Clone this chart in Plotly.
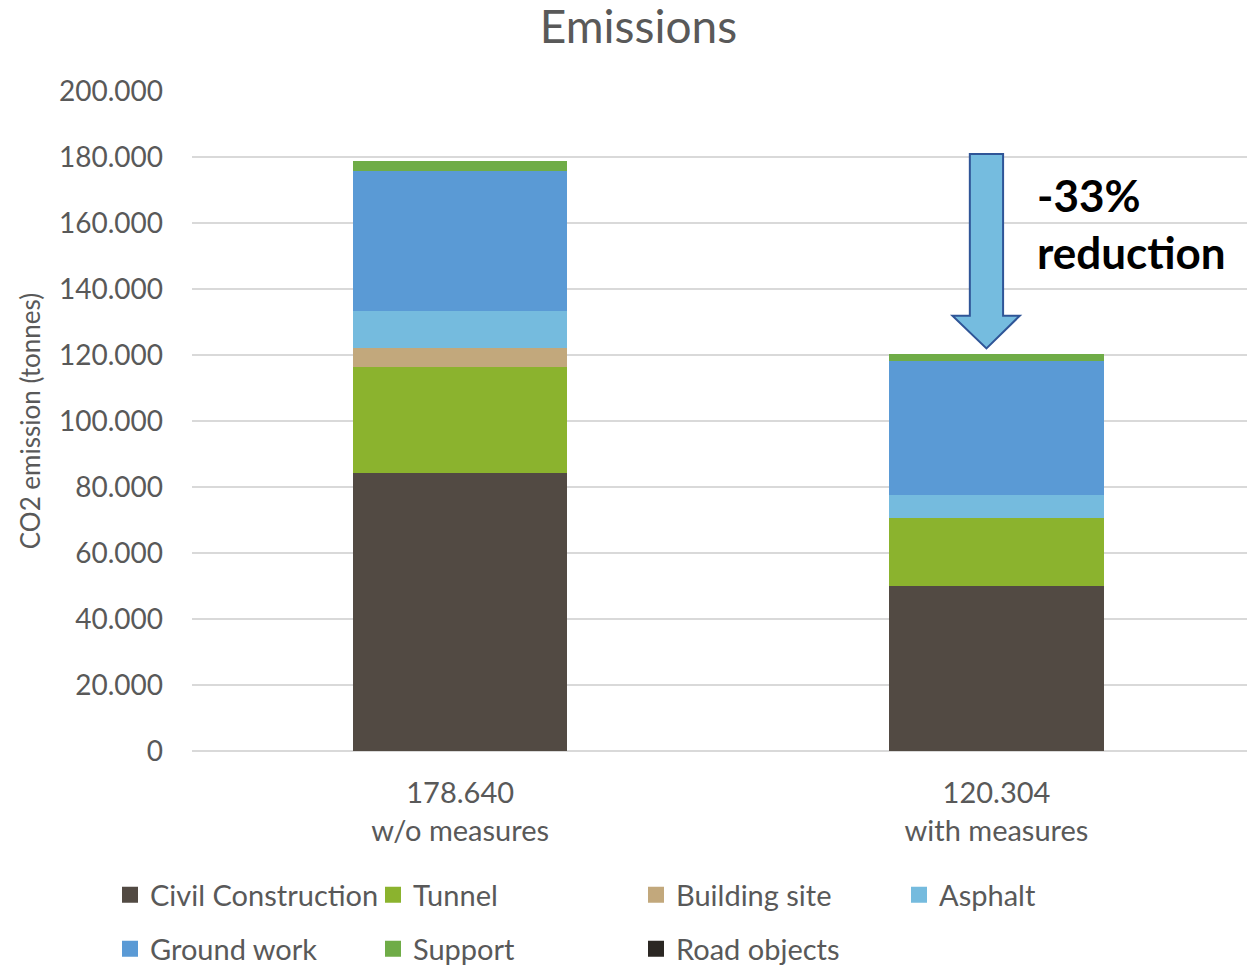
import plotly.graph_objects as go

# ---- data (tonnes CO2) ----
scenarios = ["w/o measures", "with measures"]
series_names = ["Civil Construction", "Tunnel", "Building site", "Asphalt",
                "Ground work", "Support", "Road objects"]
civil_construction = [84300, 50100]
tunnel = [32200, 20600]
building_site = [5700, 0]
asphalt = [11100, 6900]
ground_work = [42600, 40600]
support = [2740, 2104]
road_objects = [0, 0]
y_ticks = [0, 20000, 40000, 60000, 80000, 100000, 120000, 140000, 160000, 180000, 200000]
reduction_text = "-33%<br>reduction"

series_values = [civil_construction, tunnel, building_site, asphalt,
                 ground_work, support, road_objects]
colors = ["#524A43", "#8BB32E", "#C2A87C", "#75BBDE", "#5A9AD5", "#6FAC47", "#2B2723"]

totals = [sum(v[i] for v in series_values) for i in range(len(scenarios))]
categories = [f"{t:,}".replace(",", ".") + "<br>" + s for t, s in zip(totals, scenarios)]

FONT = "Lato"
GREY = "#595959"
W, H = 1255, 960  # page adds an 8px body margin

fig = go.Figure()
for name, vals, col in zip(series_names, series_values, colors):
    fig.add_trace(go.Bar(x=categories, y=vals, name=name, marker_color=col,
                         marker_line_width=0, width=0.4, showlegend=False))

# legend entries (square markers) split into two rows
row1 = series_names[:4]
for name, col in zip(series_names, colors):
    fig.add_trace(go.Scatter(x=[None], y=[None], mode="markers", name=name,
                             marker=dict(symbol="square", size=16, color=col),
                             legend="legend" if name in row1 else "legend2"))

legend_common = dict(orientation="h", xref="container", yref="container",
                     xanchor="left", yanchor="middle", traceorder="normal",
                     entrywidth=218, entrywidthmode="pixels",
                     font=dict(family=FONT, size=29, color=GREY),
                     bgcolor="rgba(0,0,0,0)", borderwidth=0, tracegroupgap=0)

# block arrow (category-index x, data y)
cx = 0.9813
arrow_path = (f"M {cx-0.031},{180900} L {cx+0.031},{180900} L {cx+0.031},{131900} "
              f"L {cx+0.0622},{131900} L {cx},{122000} L {cx-0.0634},{131900} "
              f"L {cx-0.031},{131900} Z")
fig.add_shape(type="path", path=arrow_path, xref="x", yref="y",
              fillcolor="#75BCDF", line=dict(color="#2F5597", width=2), layer="above")

fig.add_annotation(text="<b>" + reduction_text + "</b>", xref="x", yref="y",
                   x=1.072, y=177000, xanchor="left", yanchor="top", align="left",
                   showarrow=False, font=dict(family=FONT, size=44, color="#000000"))

fig.update_layout(
    width=W, height=H,
    barmode="stack",
    separators=",.",
    paper_bgcolor="white", plot_bgcolor="white",
    margin=dict(l=184, r=8, t=83, b=217, autoexpand=False),
    title=dict(text="Emissions", x=630.5 / W, xref="container", xanchor="center",
               y=1 - 19 / H, yref="container", yanchor="middle",
               font=dict(family=FONT, size=46, color=GREY)),
    font=dict(family=FONT, color=GREY),
    legend=dict(x=102 / W, y=1 - 887 / H, **legend_common),
    legend2=dict(x=102 / W, y=1 - 941 / H, **legend_common),
    xaxis=dict(type="category", range=[-0.5, 1.482], showline=False, showgrid=False,
               ticks="", tickfont=dict(family=FONT, size=29, color=GREY),
               ticklabelstandoff=22),
    yaxis=dict(range=[0, 200000], tickvals=y_ticks, tickformat=",d",
               showgrid=True, gridcolor="#D9D9D9", gridwidth=1.5,
               zeroline=True, zerolinecolor="#D9D9D9", zerolinewidth=1.5,
               showline=False, ticks="", tickfont=dict(family=FONT, size=28, color=GREY),
               ticklabelstandoff=28,
               title=dict(text="CO2 emission (tonnes)", standoff=10,
                          font=dict(family=FONT, size=26, color=GREY))),
)

fig.write_html("out.html")
